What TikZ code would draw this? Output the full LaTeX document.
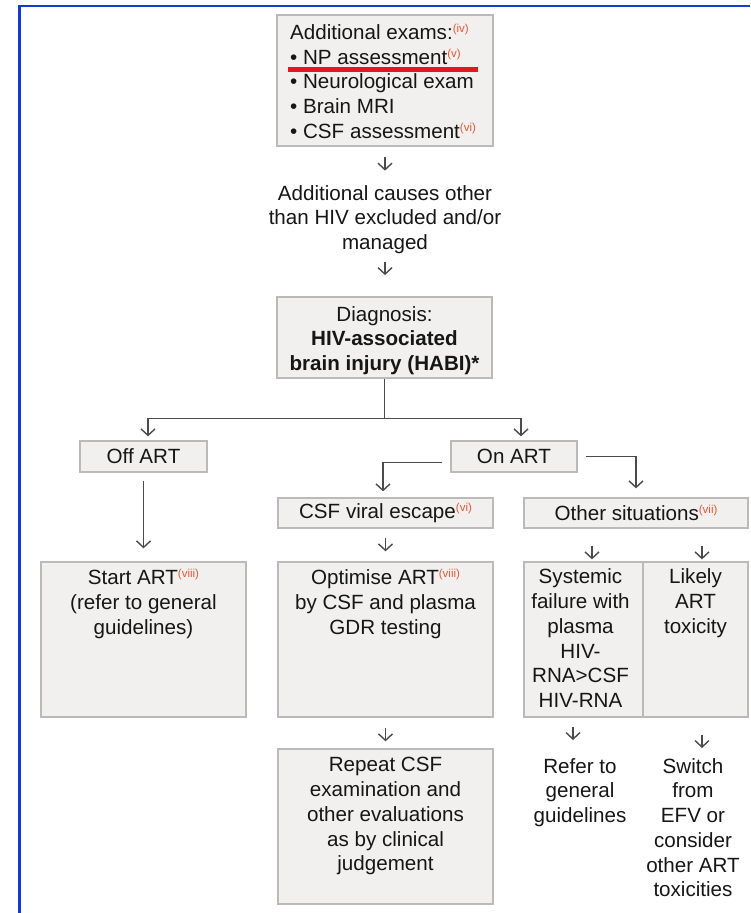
\documentclass[tikz,border=0pt]{standalone}
\usepackage{fontspec}
\setmainfont{Liberation Sans}
\usetikzlibrary{arrows.meta}
\definecolor{frameblue}{RGB}{22,58,214}
\definecolor{boxfill}{RGB}{241,240,239}
\definecolor{boxline}{RGB}{186,186,186}
\definecolor{ink}{RGB}{22,22,22}
\definecolor{arrowgray}{RGB}{75,75,75}
\definecolor{noteorange}{RGB}{228,88,52}
\definecolor{markred}{RGB}{232,22,28}
\newcommand{\noteref}[1]{\raisebox{6.8pt}{\fontsize{11.5}{11.5}\selectfont\color{noteorange}(#1)}}
\begin{document}
\begin{tikzpicture}[x=1pt,y=-1pt,
	box/.style={draw=boxline,fill=boxfill,line width=1.3pt,inner sep=0pt},
	txt/.style={text=ink,align=center,inner sep=0pt,font=\fontsize{20.6}{24.75}\selectfont},
	arr/.style={draw=arrowgray,line width=1.4pt,-{Straight Barb[length=6.5pt,width=14pt]}},
	lin/.style={draw=arrowgray,line width=1.4pt}]
	  \useasboundingbox (0,0) rectangle (750,913);
	  \draw[frameblue,line width=2.5pt] (19.5,913) -- (19.5,6) -- (750,6);

	  \node[box,minimum width=216pt,minimum height=131pt] (exams) at (385,80.5) {};
	  \node[txt,align=left,anchor=north west] (examstxt) at (290,24) {Additional exams:\noteref{iv}\\• NP assessment\noteref{v}\\• Neurological exam\\• Brain MRI\\• CSF assessment\noteref{vi}};
	  \draw[markred,line width=4.5pt] (288,69.5) -- (478,69.5);
	  \node[txt,anchor=north] (causes) at (385,185) {Additional causes other\\than HIV excluded and/or\\managed};
	  \node[box,minimum width=215pt,minimum height=81pt] (diag) at (384.5,337.5) {};
	  \node[txt] (diagtxt) at ([yshift=-3pt]diag.center) {Diagnosis:\\\textbf{HIV-associated}\\\textbf{brain injury (HABI)*}};
	  \coordinate (hub) at ([yshift=-40pt]diag.south);

	  \node[box,txt,minimum width=127pt,minimum height=31pt] (offart) at (143.5,456.5) {Off ART};
	  \node[box,txt,minimum width=126pt,minimum height=31pt] (onart) at (514,456.5) {On ART};
	  \node[box,txt,minimum width=215pt,minimum height=30pt] (csfesc) at (385.5,513) {CSF viral escape\noteref{vi}};
	  \node[box,txt,minimum width=224pt,minimum height=30pt] (other) at (636,513) {Other situations\noteref{vii}};

	  \node[box,minimum width=205pt,minimum height=155pt] (startart) at (143.5,639.5) {};
	  \node[box,minimum width=215pt,minimum height=155pt] (optimise) at (385.5,639.5) {};
	  \node[box,minimum width=119pt,minimum height=155pt] (systemic) at (583.5,639.5) {};
	  \node[box,minimum width=105pt,minimum height=155pt] (likely) at (695.5,639.5) {};
	  \node[txt,anchor=north] (starttxt) at ([yshift=-8pt]startart.north) {Start ART\noteref{viii}\\(refer to general\\guidelines)};
	  \node[txt,anchor=north] (optimisetxt) at ([yshift=-8pt]optimise.north) {Optimise ART\noteref{viii}\\by CSF and plasma\\GDR testing};
	  \node[txt,anchor=north] (systemictxt) at ([xshift=-3pt,yshift=-7.5pt]systemic.north) {Systemic\\failure with\\plasma\\HIV-\\RNA>CSF\\HIV-RNA};
	  \node[txt,anchor=north] (likelytxt) at ([yshift=-7.5pt]likely.north) {Likely\\ART\\toxicity};

	  \node[box,minimum width=215pt,minimum height=155pt] (repeat) at (385.5,826.5) {};
	  \node[txt,anchor=north] (repeattxt) at ([yshift=-9pt]repeat.north) {Repeat CSF\\examination and\\other evaluations\\as by clinical\\judgement};
	  \node[txt,anchor=north] (refer) at (580,758) {Refer to\\general\\guidelines};
	  \node[txt,anchor=north] (switch) at (693,758) {Switch\\from\\EFV or\\consider\\other ART\\toxicities};

	  \draw[arr] ([yshift=-10pt]exams.south) -- ([yshift=-24pt]exams.south);
	  \draw[arr] ([yshift=-8pt]causes.south) -- ([yshift=-21pt]causes.south);
	  \draw[lin] (diag.south) -- (hub);
	  \draw[arr,shorten >=4pt] (hub) -| ([xshift=4.5pt]offart.north);
	  \draw[arr,shorten >=4pt] (hub) -| ([xshift=7pt]onart.north);
	  \draw[arr,shorten <=8pt,shorten >=13pt] (offart) -- (startart);
	  \draw[arr,shorten >=6pt] ([xshift=-8pt,yshift=-6pt]onart.west) -| ([xshift=-2.5pt]csfesc.north);
	  \draw[arr,shorten >=9pt] ([xshift=8pt]onart.east) -| (other.north);
	  \draw[arr,shorten <=9pt,shorten >=10pt] (csfesc) -- (optimise);
	  \draw[arr,shorten <=17pt,shorten >=2pt] ([xshift=8.5pt]systemic.north |- other.south) -- ([xshift=8.5pt]systemic.north);
	  \draw[arr,shorten <=17pt,shorten >=2pt] ([xshift=6.5pt]likely.north |- other.south) -- ([xshift=6.5pt]likely.north);
	  \draw[arr,shorten <=10pt,shorten >=7pt] (optimise) -- (repeat);
	  \draw[arr,shorten <=9pt,shorten >=18pt] ([xshift=-10.5pt]systemic.south) -- ([xshift=-10.5pt]systemic.south |- refer.north);
	  \draw[arr,shorten <=17pt,shorten >=10pt] ([xshift=6.5pt]likely.south) -- ([xshift=6.5pt]likely.south |- switch.north);
	\end{tikzpicture}
\end{document}
